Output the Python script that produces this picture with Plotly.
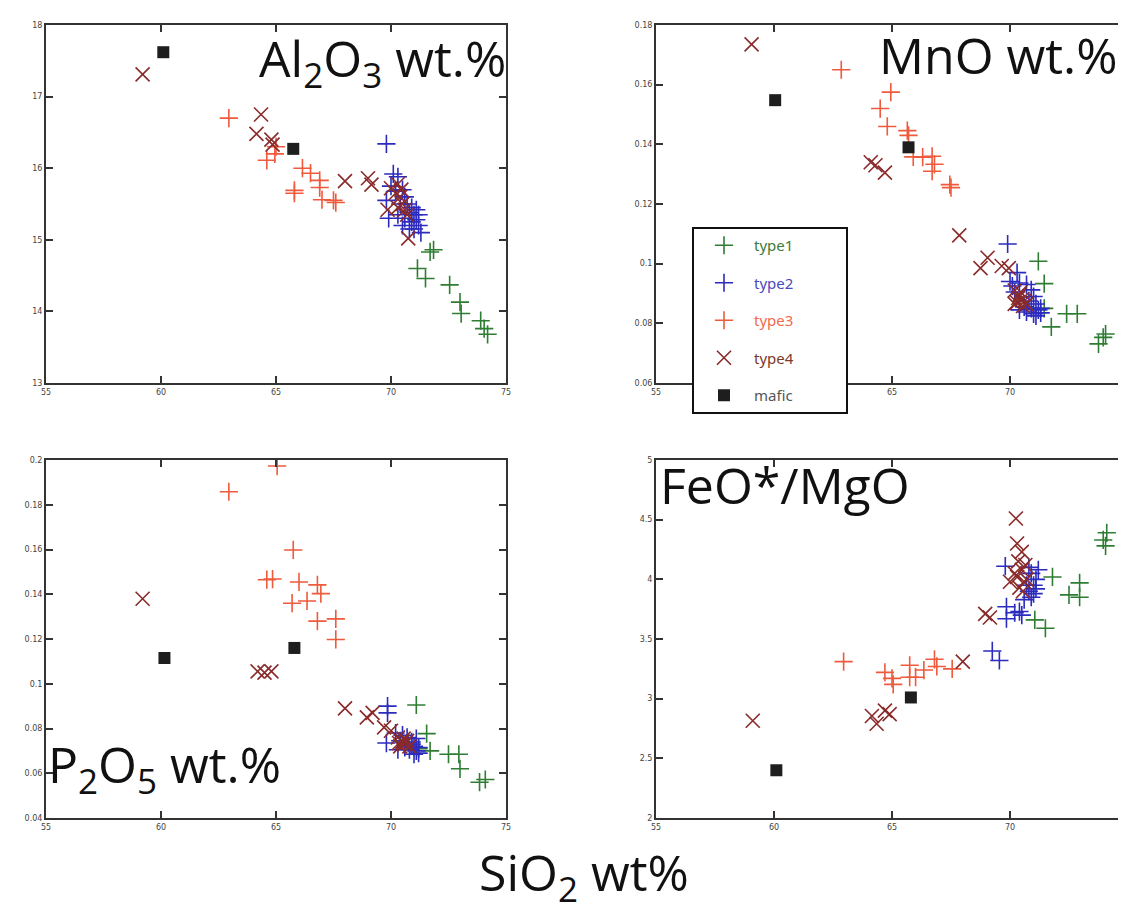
import plotly.graph_objects as go

W, H = 1126, 911

# ---------------- data ----------------
# Panel 1: Al2O3 wt.%
al_t1_x = [71.7, 71.85, 71.15, 71.5, 72.55, 73.0, 73.05, 73.9, 74.05, 74.2]
al_t1_y = [14.83, 14.86, 14.6, 14.46, 14.37, 14.13, 13.97, 13.87, 13.76, 13.68]
al_t2_x = [69.8, 70.1, 70.3, 70.0, 70.2, 69.8, 70.5, 70.6, 70.4, 70.7, 70.9, 70.8, 71.0,
           71.1, 70.6, 70.9, 71.2, 71.0, 71.3, 70.5, 70.8, 71.1, 69.9, 70.3, 71.2]
al_t2_y = [16.34, 15.92, 15.88, 15.75, 15.68, 15.55, 15.7, 15.6, 15.5, 15.5, 15.45, 15.38, 15.35,
           15.28, 15.3, 15.25, 15.2, 15.15, 15.1, 15.2, 15.15, 15.42, 15.3, 15.35, 15.35]
al_t3_x = [62.95, 64.6, 64.95, 65.0, 65.8, 65.8, 66.15, 66.5, 66.9, 66.9, 67.0, 67.6, 67.5]
al_t3_y = [16.70, 16.11, 16.2, 16.3, 15.69, 15.65, 16.0, 15.93, 15.83, 15.73, 15.56, 15.52, 15.55]
al_t4_x = [59.2, 64.35, 64.15, 64.8, 64.85, 68.0, 69.0, 69.15, 70.0, 70.3, 70.2, 70.4, 70.5,
           70.6, 69.85, 70.3, 70.7, 70.75, 70.45]
al_t4_y = [17.31, 16.75, 16.48, 16.4, 16.33, 15.82, 15.86, 15.77, 15.72, 15.78, 15.65, 15.6, 15.5,
           15.42, 15.42, 15.45, 15.35, 15.02, 15.7]
al_m_x = [60.1, 65.75]
al_m_y = [17.62, 16.27]

# Panel 2: MnO wt.%
mn_t1_x = [71.2, 71.45, 71.45, 71.75, 72.4, 72.85, 73.75, 73.95, 74.05]
mn_t1_y = [0.1008, 0.0933, 0.085, 0.0788, 0.0832, 0.0832, 0.0731, 0.0753, 0.0764]
mn_t2_x = [69.9, 70.3, 70.0, 70.4, 70.7, 70.9, 70.2, 71.0, 70.8, 71.1, 70.9, 71.2, 70.7,
           71.0, 71.3, 70.6, 71.1, 70.4, 71.3, 70.1]
mn_t2_y = [0.1066, 0.097, 0.094, 0.0935, 0.093, 0.0912, 0.0905, 0.089, 0.0875, 0.0865, 0.085, 0.0845, 0.0838,
           0.0832, 0.0835, 0.0855, 0.0825, 0.0845, 0.085, 0.0925]
mn_t3_x = [62.85, 64.95, 64.5, 64.8, 65.65, 65.7, 65.9, 66.3, 66.7, 66.8, 66.7, 67.45, 67.5]
mn_t3_y = [0.165, 0.1575, 0.152, 0.146, 0.1446, 0.143, 0.1358, 0.1357, 0.136, 0.1333, 0.131, 0.1265, 0.1255]
mn_t4_x = [59.05, 64.1, 64.3, 64.7, 67.85, 69.05, 68.75, 69.65, 69.95, 70.2, 70.4, 70.5, 70.3,
           70.6, 70.45, 70.7, 70.35, 70.55, 70.2]
mn_t4_y = [0.1735, 0.134, 0.133, 0.1305, 0.1095, 0.102, 0.0985, 0.0992, 0.0985, 0.091, 0.0895, 0.088, 0.087,
           0.0875, 0.0905, 0.0865, 0.0885, 0.0858, 0.0865]
mn_m_x = [60.05, 65.7]
mn_m_y = [0.1548, 0.139]

# Panel 3: P2O5 wt.%
p_t1_x = [71.1, 71.55, 71.7, 72.5, 72.95, 73.0, 73.85, 74.1, 71.2]
p_t1_y = [0.0905, 0.0777, 0.070, 0.0685, 0.0685, 0.062, 0.056, 0.0572, 0.071]
p_t2_x = [69.85, 69.85, 69.8, 70.2, 70.5, 70.7, 70.9, 71.0, 71.1, 70.8, 71.2, 70.6, 71.0,
          70.9, 71.2, 70.4, 70.3, 71.1]
p_t2_y = [0.090, 0.087, 0.0735, 0.078, 0.077, 0.076, 0.074, 0.072, 0.070, 0.0705, 0.0715, 0.0715, 0.0685,
          0.073, 0.069, 0.0745, 0.0705, 0.0755]
p_t3_x = [65.05, 62.95, 65.75, 64.6, 64.85, 66.0, 65.7, 66.35, 66.8, 66.95, 66.8, 67.6, 67.6]
p_t3_y = [0.1973, 0.1858, 0.1598, 0.1465, 0.1468, 0.1455, 0.136, 0.137, 0.1442, 0.1403, 0.128, 0.129, 0.1198]
p_t4_x = [59.2, 64.2, 64.5, 64.8, 68.0, 68.95, 69.2, 70.0, 70.3, 70.5, 70.6, 70.4, 70.7,
          70.55, 70.35, 69.7, 70.8]
p_t4_y = [0.138, 0.1055, 0.105, 0.1055, 0.089, 0.085, 0.087, 0.079, 0.076, 0.074, 0.073, 0.072, 0.0745,
          0.0755, 0.0735, 0.0805, 0.072]
p_m_x = [60.15, 65.8]
p_m_y = [0.1115, 0.116]

# Panel 4: FeO*/MgO
fe_t1_x = [71.05, 71.5, 71.8, 72.5, 72.95, 72.95, 73.95, 74.1, 74.05]
fe_t1_y = [3.66, 3.59, 4.02, 3.87, 3.97, 3.85, 4.33, 4.39, 4.28]
fe_t2_x = [69.25, 69.55, 69.8, 69.85, 69.85, 70.4, 70.6, 70.2, 70.8, 70.9, 71.0, 71.1, 70.8,
           71.0, 71.2, 70.7, 71.1, 70.9, 70.5]
fe_t2_y = [3.40, 3.32, 4.11, 3.77, 3.67, 3.73, 3.83, 3.72, 3.9, 4.05, 3.95, 4.0, 4.1,
           3.88, 4.08, 3.95, 3.92, 3.85, 3.7]
fe_t3_x = [62.95, 64.7, 65.0, 65.05, 65.75, 65.75, 66.0, 66.35, 66.8, 66.9, 67.55]
fe_t3_y = [3.31, 3.22, 3.17, 3.12, 3.28, 3.18, 3.18, 3.24, 3.33, 3.27, 3.25]
fe_t4_x = [59.1, 64.15, 64.35, 64.7, 64.9, 68.0, 68.95, 69.15, 70.25, 70.3, 70.5, 70.0, 70.35,
           70.5, 70.3, 70.6, 70.4, 70.65, 70.2, 70.55, 70.7]
fe_t4_y = [2.815, 2.855, 2.79, 2.9, 2.87, 3.31, 3.71, 3.68, 4.51, 4.30, 4.23, 3.98, 4.15,
           4.08, 4.02, 3.98, 3.93, 4.12, 4.05, 3.9, 4.0]
fe_m_x = [60.1, 65.8]
fe_m_y = [2.40, 3.01]

series_names = ["type1", "type2", "type3", "type4", "mafic"]
x_ticks = [55, 60, 65, 70, 75]
al_ticks = [13, 14, 15, 16, 17, 18]
mn_ticks = [0.06, 0.08, 0.1, 0.12, 0.14, 0.16, 0.18]
p_ticks = [0.04, 0.06, 0.08, 0.1, 0.12, 0.14, 0.16, 0.18, 0.2]
fe_ticks = [2, 2.5, 3, 3.5, 4, 4.5, 5]

# ---------------- styles ----------------
colors = {"type1": "#2e7d32", "type2": "#2b2bbf", "type3": "#ef5a3c",
          "type4": "#8a2a2a", "mafic": "#1e1e1e"}
text_colors = {"type1": "#3d7a3d", "type2": "#4a4ac0", "type3": "#ef6a4a",
               "type4": "#7a3a2a", "mafic": "#555555"}
symbols = {"type1": "cross-thin", "type2": "cross-thin", "type3": "cross-thin",
           "type4": "x-thin", "mafic": "square"}
sizes = {"type1": 13, "type2": 13, "type3": 13, "type4": 14, "mafic": 12}

panels = [
    ("x", "y", [(al_t1_x, al_t1_y), (al_t2_x, al_t2_y), (al_t3_x, al_t3_y), (al_t4_x, al_t4_y), (al_m_x, al_m_y)]),
    ("x2", "y2", [(mn_t1_x, mn_t1_y), (mn_t2_x, mn_t2_y), (mn_t3_x, mn_t3_y), (mn_t4_x, mn_t4_y), (mn_m_x, mn_m_y)]),
    ("x3", "y3", [(p_t1_x, p_t1_y), (p_t2_x, p_t2_y), (p_t3_x, p_t3_y), (p_t4_x, p_t4_y), (p_m_x, p_m_y)]),
    ("x4", "y4", [(fe_t1_x, fe_t1_y), (fe_t2_x, fe_t2_y), (fe_t3_x, fe_t3_y), (fe_t4_x, fe_t4_y), (fe_m_x, fe_m_y)]),
]

fig = go.Figure()
for pi, (xa, ya, data) in enumerate(panels):
    for name, (xs, ys) in zip(series_names, data):
        c = colors[name]
        if symbols[name] == "square":
            marker = dict(symbol="square", size=sizes[name], color=c, line=dict(width=0))
        else:
            marker = dict(symbol=symbols[name], size=sizes[name], color=c,
                          line=dict(width=1.6, color=c))
        label = "<span style='color:%s'>%s</span>" % (text_colors[name], name) + "\u00a0" * 12
        fig.add_trace(go.Scatter(
            x=xs, y=ys, mode="markers", marker=marker, xaxis=xa, yaxis=ya,
            name=label, legendgroup=name, showlegend=(pi == 0), hoverinfo="x+y"))

def px_x(p):
    return p / W

def px_y(p):
    return 1 - p / H

dom_left = [px_x(38), px_x(498)]
dom_right = [px_x(648), px_x(1120)]
dom_top = [px_y(375), px_y(17)]
dom_bot = [px_y(810), px_y(452)]

axis_common = dict(showline=True, linecolor="#333", linewidth=2, mirror="ticks",
                   ticks="inside", ticklen=7, tickwidth=1.5, tickcolor="#333",
                   showgrid=False, zeroline=False, automargin=False,
                   tickfont=dict(size=8, color="#444", family="DejaVu Sans"))

layout = dict(
    width=W, height=H, margin=dict(l=0, r=0, t=0, b=0),
    paper_bgcolor="white", plot_bgcolor="white",
    xaxis=dict(domain=dom_left, anchor="y", range=[55, 75], tickvals=x_ticks, **axis_common),
    yaxis=dict(domain=dom_top, anchor="x", range=[13, 18], tickvals=al_ticks, **axis_common),
    xaxis2=dict(domain=dom_right, anchor="y2", range=[55, 75], tickvals=x_ticks, **axis_common),
    yaxis2=dict(domain=dom_top, anchor="x2", range=[0.06, 0.18], tickvals=mn_ticks,
                ticktext=[("%g" % v) for v in mn_ticks], **axis_common),
    xaxis3=dict(domain=dom_left, anchor="y3", range=[55, 75], tickvals=x_ticks, **axis_common),
    yaxis3=dict(domain=dom_bot, anchor="x3", range=[0.04, 0.2], tickvals=p_ticks,
                ticktext=[("%g" % v) for v in p_ticks], **axis_common),
    xaxis4=dict(domain=dom_right, anchor="y4", range=[55, 75], tickvals=x_ticks, **axis_common),
    yaxis4=dict(domain=dom_bot, anchor="x4", range=[2, 5], tickvals=fe_ticks, **axis_common),
    showlegend=True,
    legend=dict(x=px_x(684), y=px_y(219), xanchor="left", yanchor="top",
                bgcolor="white", bordercolor="#111", borderwidth=2,
                font=dict(size=15, family="Noto Sans"), itemwidth=50,
                tracegroupgap=15, traceorder="grouped"),
)
fig.update_layout(**layout)

title_font = dict(size=50, family="Open Sans", color="#111")
ann = [
    dict(text="Al<sub>2</sub>O<sub>3</sub> wt.%", x=px_x(500), y=px_y(14), xanchor="right", yanchor="top"),
    dict(text="MnO wt.%", x=px_x(1112), y=px_y(11), xanchor="right", yanchor="top"),
    dict(text="P<sub>2</sub>O<sub>5</sub> wt.%", x=px_x(38), y=px_y(720), xanchor="left", yanchor="top"),
    dict(text="FeO*/MgO", x=px_x(650), y=px_y(441), xanchor="left", yanchor="top"),
    dict(text="SiO<sub>2</sub> wt%", x=px_x(576), y=px_y(828), xanchor="center", yanchor="top"),
]
for a in ann:
    fig.add_annotation(xref="paper", yref="paper", showarrow=False, font=title_font, **a)

fig.write_html("out.html")
